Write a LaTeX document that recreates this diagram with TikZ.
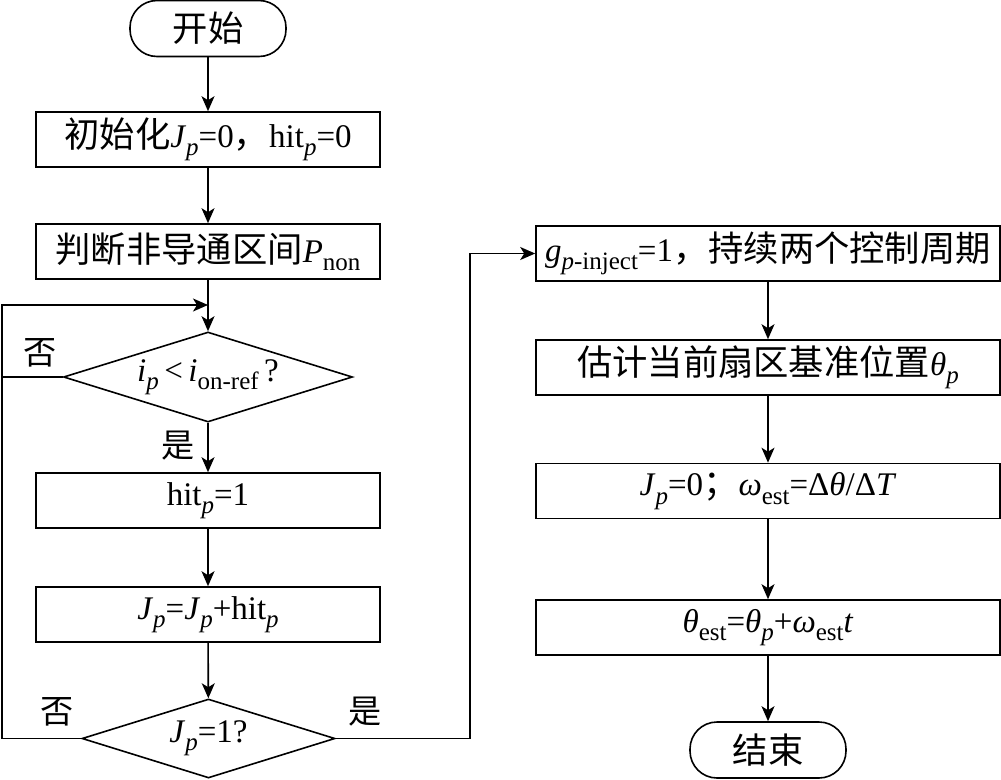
\documentclass[tikz,border=0pt]{standalone}
\usepackage{fontspec}
\setmainfont{Liberation Serif}
\newfontfamily\cjk[Scale=1.07]{Noto Sans CJK SC}
\usetikzlibrary{shapes.geometric,arrows.meta}
\newcommand\zh[1]{{\cjk #1}}
\newcommand\iv[1]{\textit{#1}}
\newcommand\sbs[1]{\raisebox{-0.25em}{\fontsize{25}{29}\selectfont #1}}
\begin{document}
\begin{tikzpicture}[x=1pt,y=-1pt,line width=1.6pt,
  font=\fontsize{33}{39}\selectfont,
  box/.style={draw,minimum width=344pt,minimum height=55pt,inner sep=0pt},
  rbox/.style={draw,minimum width=464pt,minimum height=55pt,inner sep=0pt},
  term/.style={draw,rounded corners=27pt,minimum width=156pt,minimum height=56pt,inner sep=0pt},
  dec/.style={draw,diamond,inner sep=0pt},
  lab/.style={inner sep=0pt,font=\fontsize{31}{36}\selectfont},
  arr/.style={-{Stealth[length=15pt,width=13pt,inset=4pt]}}]
\useasboundingbox (0,0) rectangle (1001,779);
% left column
\node[term] (start) at (208,28.5) {\zh{开始}};
\node[box] (b1) at (208,139.5) {\zh{初始化}\iv{J}\sbs{\iv{p}}=0\zh{，}hit\sbs{\iv{p}}=0};
\node[box] (b2) at (208,251.5) {\zh{判断非导通区间}\iv{P}\sbs{non}};
\node[dec,minimum width=289pt,minimum height=90pt] (d1) at (208,377)
  {\makebox[0pt][c]{\iv{i}\sbs{\iv{p}}\,<\,\iv{i}\sbs{on-ref}\,?}};
\node[box] (b3) at (208,500.5) {hit\sbs{\iv{p}}=1};
\node[box] (b4) at (208,614.5) {\iv{J}\sbs{\iv{p}}=\iv{J}\sbs{\iv{p}}+hit\sbs{\iv{p}}};
\node[dec,minimum width=253pt,minimum height=79pt] (d2) at (208.5,738.5)
  {\makebox[0pt][c]{\iv{J}\sbs{\iv{p}}=1?}};
% right column
\node[rbox] (r1) at (768,253.5) {\iv{g}\sbs{\iv{p}-inject}=1\zh{，持续两个控制周期}};
\node[rbox] (r2) at (768,367.5) {\zh{估计当前扇区基准位置}\iv{θ}\sbs{\iv{p}}};
\node[rbox] (r3) at (768,491) {\iv{J}\sbs{\iv{p}}=0\zh{；}\iv{ω}\sbs{est}=Δ\iv{θ}/Δ\iv{T}};
\node[rbox] (r4) at (768,627.5) {\iv{θ}\sbs{est}=\iv{θ}\sbs{\iv{p}}+\iv{ω}\sbs{est}\iv{t}};
\node[term] (end) at (768,750) {\zh{结束}};
% labels
\node[lab] (no1) at (40,353) {\zh{否}};
\node[lab] (yes1) at (178,446) {\zh{是}};
\node[lab] (no2) at (57,712) {\zh{否}};
\node[lab] (yes2) at (365,712) {\zh{是}};
% helper coordinates
\coordinate (lt) at (2,305);
\coordinate (lb) at (2,738.5);
\coordinate (jn) at (208,305);
\coordinate (rb) at (470,738.5);
% connectors
\draw[arr] (start) -- (b1);
\draw[arr] (b1) -- (b2);
\draw[arr] (b2) -- (d1);
\draw[arr] (d1) -- (b3);
\draw[arr] (b3) -- (b4);
\draw[arr] (b4) -- (d2);
\draw[arr] (d2.west) -- (lb) -- (lt) -- (jn);
\draw (d1.west) -- (d1.west -| lt);
\draw[arr] (d2.east) -- (rb) |- (r1.west);
\draw[arr] (r1) -- (r2);
\draw[arr] (r2) -- (r3);
\draw[arr] (r3) -- (r4);
\draw[arr] (r4) -- (end);
\end{tikzpicture}
\end{document}
